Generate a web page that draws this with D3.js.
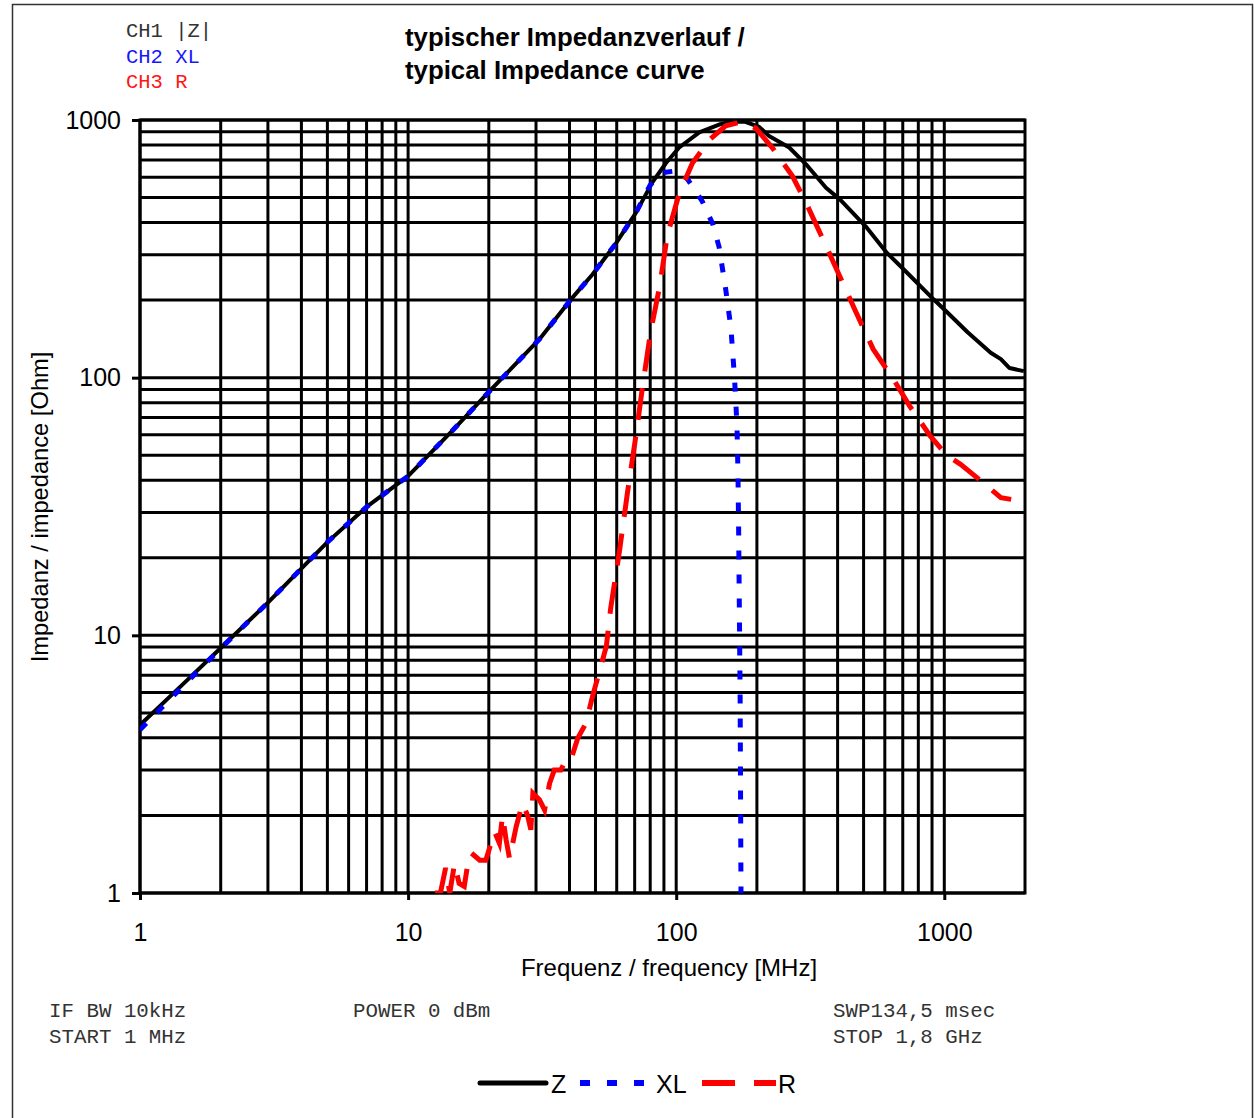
<!DOCTYPE html>
<html><head><meta charset="utf-8">
<script src="https://cdn.jsdelivr.net/npm/d3@7"></script>
<style>body{margin:0;background:#fff}svg{display:block}</style>
</head><body>
<svg id="c" width="1254" height="1118"></svg>
<script>
// ---- data ----
const titleLines = ["typischer Impedanzverlauf /", "typical Impedance curve"];
const chLabels = ["CH1 |Z|", "CH2 XL", "CH3 R"];
const xTickLabels = [1, 10, 100, 1000];
const yTickLabels = [1, 10, 100, 1000];
const infoLeft = ["IF BW 10kHz", "START 1 MHz"];
const infoMid = ["POWER 0 dBm"];
const infoRight = ["SWP134,5 msec", "STOP 1,8 GHz"];
const seriesNames = ["Z", "XL", "R"];

const zFreq = [1, 1.5, 2, 3, 5, 7, 10, 15, 20, 30.9, 41.1, 48.8, 59.6, 70.8, 81.6, 91.6, 102.6, 121.9, 144.6, 162, 180, 204, 222, 264, 305, 362, 408, 514, 611, 725, 914, 1027, 1222, 1490, 1626, 1751, 1980];
const zVal  = [4.49, 6.7, 8.93, 13.4, 23, 31.5, 41.5, 64, 88, 141, 205, 252, 332, 437, 574, 681, 782, 896, 960, 985, 985, 940, 866, 782, 673, 546, 492, 382, 305, 256, 201, 179, 150, 125, 118, 109, 106];

const xlFreq = [1, 1.5, 2, 3, 5, 7, 10, 15, 20, 30.9, 41.1, 48.8, 59.6, 70.8, 80, 89.2, 102.6, 111, 125, 137, 144.6, 153, 160, 165, 168.5, 170, 171, 172, 173.2, 174.5];
const xlVal  = [4.3, 6.6, 8.9, 13.4, 23, 31.5, 41.5, 64, 88, 141, 205, 252, 332, 437, 560, 625, 637, 583, 484, 394, 321, 220, 156, 100, 66, 42.5, 25.4, 12.8, 5.6, 0.95];

const rFreq = [12.6, 13.2, 13.8, 14.3, 14.9, 15.5, 16.2, 16.7, 17.2, 18.5, 19.5, 21.0, 21.9, 22.5, 23.2, 23.9, 25.3, 26.7, 27.9, 28.7, 29.2, 30.9, 32.3, 33.7, 35.1, 37.1, 39.9, 41.0, 42.9, 46.0, 48.8, 54.9, 57.0, 61.5, 65.8, 70.8, 75.0, 80.3, 86.9, 92.6, 102.6, 115, 133, 153, 176, 198, 228, 271, 305, 353, 407, 469, 543, 646, 743, 886, 1027, 1150, 1372, 1626, 1776];
const rVal  = [1.0, 1.0, 1.25, 1.0, 1.30, 1.09, 1.06, 1.30, 1.43, 1.34, 1.34, 1.73, 1.56, 2.0, 1.61, 1.36, 1.81, 2.23, 2.0, 1.76, 2.44, 2.30, 2.10, 2.66, 3.0, 3.0, 3.48, 3.43, 3.98, 4.55, 5.82, 9.08, 12.8, 21.4, 35.8, 59.8, 93.3, 151, 228, 356, 518, 681, 837, 950, 985, 930, 782, 607, 477, 344, 248, 179, 129, 98.6, 77.6, 59.4, 49.7, 46.1, 39.7, 34.2, 33.7];

// ---- layout ----
const svg = d3.select("#c");
const L = 140, R = 1025, T = 120, B = 893;
const x = d3.scaleLog().domain([1, 2000]).range([L, R]);
const y = d3.scaleLog().domain([1, 1000]).range([B, T]);
const sans = "'Liberation Sans', Arial, sans-serif";
const mono = "'Liberation Mono', 'Courier New', monospace";

// outer border
svg.append("rect").attr("x", 12.5).attr("y", 4.5).attr("width", 1240).attr("height", 1130)
  .attr("fill", "none").attr("stroke", "#333").attr("stroke-width", 1.5);

// grid
const gx = x.ticks().filter(v => v <= 1000);
const gy = y.ticks();
svg.append("g").selectAll("line").data(gx).join("line")
  .attr("x1", d => x(d)).attr("x2", d => x(d)).attr("y1", T).attr("y2", B)
  .attr("stroke", "#000").attr("stroke-width", 3);
svg.append("g").selectAll("line").data(gy).join("line")
  .attr("x1", L).attr("x2", R).attr("y1", d => y(d)).attr("y2", d => y(d))
  .attr("stroke", "#000").attr("stroke-width", 3);
svg.append("rect").attr("x", L).attr("y", T).attr("width", R - L).attr("height", B - T)
  .attr("fill", "none").attr("stroke", "#000").attr("stroke-width", 3);

// axes ticks
const xAxis = d3.axisBottom(x).tickValues(xTickLabels).tickSize(7).tickPadding(23).tickFormat(d3.format("d"));
const gxa = svg.append("g").attr("transform", `translate(0,${B})`).call(xAxis);
gxa.select(".domain").remove();
gxa.selectAll("line").attr("stroke", "#000").attr("stroke-width", 3);
gxa.selectAll("text").attr("font-family", sans).attr("font-size", 25).attr("fill", "#000");

const yAxis = d3.axisLeft(y).tickValues(yTickLabels).tickSize(8).tickPadding(11).tickFormat(d3.format("d"));
const gya = svg.append("g").attr("transform", `translate(${L},0)`).call(yAxis);
gya.select(".domain").remove();
gya.selectAll("line").attr("stroke", "#000").attr("stroke-width", 3);
gya.selectAll("text").attr("font-family", sans).attr("font-size", 25).attr("fill", "#000");

// axis titles
svg.append("text").attr("x", 669).attr("y", 976).attr("text-anchor", "middle")
  .attr("font-family", sans).attr("font-size", 24).text("Frequenz / frequency [MHz]");
svg.append("text").attr("transform", "translate(48,507) rotate(-90)").attr("text-anchor", "middle")
  .attr("font-family", sans).attr("font-size", 23.7).text("Impedanz / impedance [Ohm]");

// title
svg.append("g").selectAll("text").data(titleLines).join("text")
  .attr("x", 405).attr("y", (d, i) => 46 + i * 33)
  .attr("font-family", sans).attr("font-weight", "bold").attr("font-size", 25.8).text(d => d);

// channel labels
const chColors = ["#333", "#1515ff", "#ff1515"];
svg.append("g").selectAll("text").data(chLabels).join("text")
  .attr("x", 126).attr("y", (d, i) => 37 + i * 25.5)
  .attr("font-family", mono).attr("font-size", 20.5).attr("fill", (d, i) => chColors[i])
  .style("white-space", "pre").text(d => d);

// info texts
function info(arr, x0) {
  svg.append("g").selectAll("text").data(arr).join("text")
    .attr("x", x0).attr("y", (d, i) => 1017 + i * 26)
    .attr("font-family", mono).attr("font-size", 20.8).attr("fill", "#333").text(d => d);
}
info(infoLeft, 49); info(infoMid, 353); info(infoRight, 833);

// curves
svg.append("defs").append("clipPath").attr("id", "pc").append("rect")
  .attr("x", L).attr("y", T - 4).attr("width", R - L).attr("height", B - T + 4);
const line = d3.line().x(d => x(d[0])).y(d => y(d[1]));
const plot = svg.append("g").attr("clip-path", "url(#pc)");
plot.append("path").datum(d3.zip(zFreq, zVal)).attr("d", line)
  .attr("fill", "none").attr("stroke", "#000").attr("stroke-width", 4).attr("stroke-linejoin", "round");
plot.append("path").datum(d3.zip(xlFreq, xlVal)).attr("d", line)
  .attr("fill", "none").attr("stroke", "#0000ff").attr("stroke-width", 5).attr("stroke-dasharray", "9,15");
plot.append("path").datum(d3.zip(rFreq, rVal)).attr("d", line)
  .attr("fill", "none").attr("stroke", "#ff0000").attr("stroke-width", 5).attr("stroke-dasharray", "32,17");

// legend
const lg = svg.append("g");
const ly = 1083;
lg.append("line").attr("x1", 480).attr("x2", 546).attr("y1", ly).attr("y2", ly)
  .attr("stroke", "#000").attr("stroke-width", 5).attr("stroke-linecap", "round");
lg.append("line").attr("x1", 580).attr("x2", 650).attr("y1", ly).attr("y2", ly)
  .attr("stroke", "#0000ff").attr("stroke-width", 6).attr("stroke-dasharray", "10,17");
lg.append("line").attr("x1", 702).attr("x2", 776).attr("y1", ly).attr("y2", ly)
  .attr("stroke", "#ff0000").attr("stroke-width", 6).attr("stroke-dasharray", "33,19");
const lgx = [551, 656, 778];
lg.selectAll("text").data(seriesNames).join("text")
  .attr("x", (d, i) => lgx[i]).attr("y", 1093)
  .attr("font-family", sans).attr("font-size", 25).text(d => d);
</script>
</body></html>
